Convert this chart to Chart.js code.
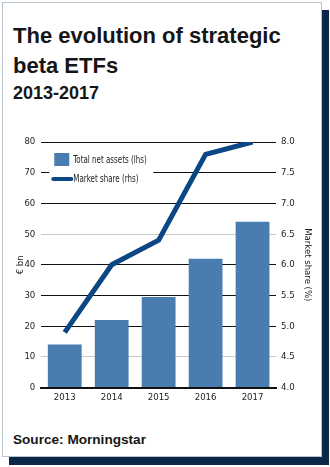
<!DOCTYPE html>
<html>
<head>
<meta charset="utf-8">
<script src="https://cdn.jsdelivr.net/npm/chart.js@4.4.1/dist/chart.umd.min.js"></script>
<style>
  body { margin: 0; background: #fff; }
  .card {
    position: absolute; left: 2px; top: 2px; width: 318px; height: 453px;
    border: 1px solid #b9c3cb; background: #fff;
    box-shadow: 7px 8px 0 #0c2848;
  }
  .title {
    position: absolute; left: 13px; top: 21px; margin: 0;
    font: bold 22px 'Liberation Sans', Arial, sans-serif; line-height: 30px; color: #161616;
  }
  .sub {
    position: absolute; left: 13px; top: 83px; margin: 0;
    font: bold 18px 'Liberation Sans', Arial, sans-serif; color: #161616;
  }
  .source {
    position: absolute; left: 13px; top: 432px; margin: 0;
    font: bold 13.6px 'Liberation Sans', Arial, sans-serif; color: #161616;
  }
  .chart-box { position: absolute; left: 3px; top: 124px; width: 312px; height: 283px; }
</style>
</head>
<body>
<div class="card"></div>
<h1 class="title">The evolution of strategic<br>beta ETFs</h1>
<div class="sub">2013-2017</div>
<div class="chart-box"><canvas id="etfChart"></canvas></div>
<div class="source">Source: Morningstar</div>
<script>
var years = ['2013', '2014', '2015', '2016', '2017'];
var netAssets = [14, 22, 29.5, 42, 54];       // € bn, left axis
var marketShare = [4.9, 6.0, 6.4, 7.8, 8.0];  // %, right axis

var narrow = "'DejaVu Sans Condensed', 'Liberation Sans Narrow', sans-serif";

// legend sits inside the plot, top-left, on a white patch
var insideLegend = {
    id: 'insideLegend',
    afterDatasetsDraw: function(chart) {
        var c = chart.ctx, a = chart.chartArea;
        var ds = chart.data.datasets;
        c.save();
        c.fillStyle = '#fff';
        c.fillRect(a.left + 8, a.top + 5, 104, 40);
        c.fillStyle = ds[0].backgroundColor;
        c.fillRect(a.left + 13, a.top + 11, 15, 13);
        c.strokeStyle = ds[1].borderColor;
        c.lineWidth = 4;
        c.lineCap = 'round';
        c.beginPath();
        c.moveTo(a.left + 12, a.top + 37);
        c.lineTo(a.left + 30, a.top + 37);
        c.stroke();
        // squeeze the text horizontally to get a condensed look
        c.fillStyle = '#222';
        c.font = '11px ' + narrow;
        c.textBaseline = 'middle';
        c.translate(a.left + 32, 0);
        c.scale(0.72, 1);
        c.fillText(ds[0].label, 0, a.top + 18);
        c.fillText(ds[1].label, 0, a.top + 37);
        c.restore();
    }
};

var ctx = document.getElementById('etfChart').getContext('2d');
var chart = new Chart(ctx, {
    type: 'bar',
    data: {
        labels: years,
        datasets: [{
            label: 'Total net assets (lhs)',
            data: netAssets,
            backgroundColor: '#4a7daf',
            yAxisID: 'y',
            order: 2,
            categoryPercentage: 1,
            barPercentage: 0.72
        }, {
            type: 'line',
            label: 'Market share (rhs)',
            data: marketShare,
            borderColor: '#0b4784',
            borderWidth: 5,
            pointRadius: 0,
            tension: 0,
            yAxisID: 'y1',
            order: 1
        }]
    },
    options: {
        responsive: true,
        maintainAspectRatio: false,
        animation: false,
        layout: { padding: { top: 18, right: 0, left: 0, bottom: 0 } },
        scales: {
            x: {
                grid: { display: false, drawTicks: false },
                border: { display: true, color: '#111', width: 2 },
                ticks: { color: '#222', font: { family: narrow, size: 9.5 }, padding: 4 }
            },
            y: {
                position: 'left',
                min: 0,
                max: 80,
                ticks: { stepSize: 10, color: '#222', padding: 6, font: { family: narrow, size: 9.5 } },
                grid: {
                    drawTicks: false,
                    color: function(c) {
                        var v = c.tick && c.tick.value;
                        return (v === 10 || v === 50) ? '#c9c9c9' : '#111';
                    }
                },
                border: { display: false },
                title: { display: true, text: '€ bn', color: '#222', font: { family: narrow, size: 9.5 }, padding: { top: 12, bottom: -8 } }
            },
            y1: {
                position: 'right',
                min: 4,
                max: 8,
                ticks: {
                    stepSize: 0.5, color: '#222', padding: 5, font: { family: narrow, size: 9.5 },
                    callback: function(v) { return v.toFixed(1); }
                },
                grid: { display: false, drawTicks: false },
                border: { display: false },
                title: { display: true, text: 'Market share (%)', color: '#222', font: { family: narrow, size: 9.5 }, padding: 2 }
            }
        },
        plugins: {
            legend: { display: false },
            tooltip: { enabled: false }
        }
    },
    plugins: [insideLegend]
});
</script>
</body>
</html>
